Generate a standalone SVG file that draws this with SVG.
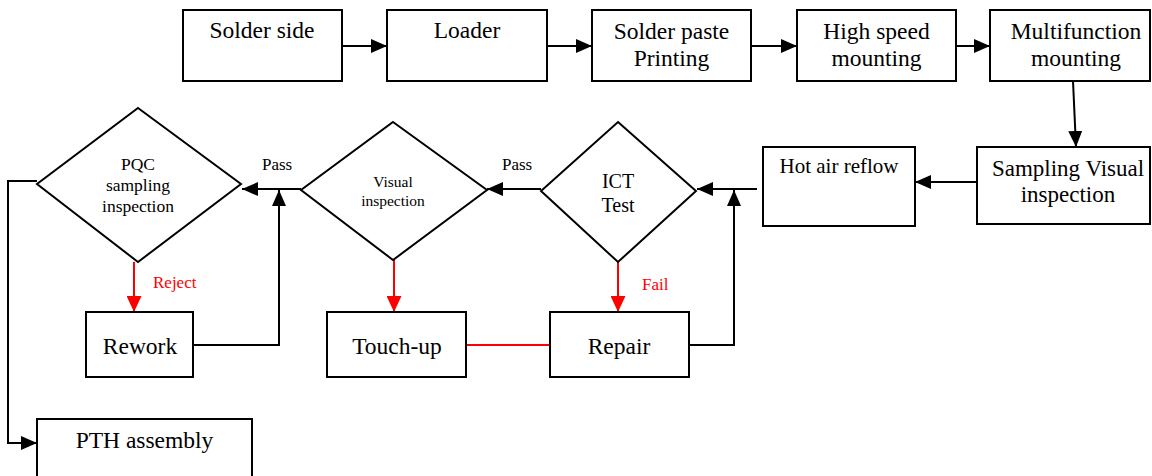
<svg xmlns="http://www.w3.org/2000/svg" width="1152" height="476" viewBox="0 0 1152 476" font-family="'Liberation Serif', 'Times New Roman', serif">
<defs>
<style>
text{font-family:'Liberation Serif','Times New Roman',serif}
.box{fill:#fff;stroke:#000;stroke-width:2}
.t{fill:#000;text-anchor:middle}
.big{font-size:23.5px}
.c{fill:none;stroke:#000;stroke-width:2}
.r{fill:none;stroke:#ff0000;stroke-width:2}
.lbl{font-size:17px}
</style>
<marker id="ah" markerUnits="userSpaceOnUse" markerWidth="16" markerHeight="14" refX="16" refY="7" orient="auto"><path d="M0,0 L16,7 L0,14 z" fill="#000"/></marker>
<marker id="ahr" markerUnits="userSpaceOnUse" markerWidth="16" markerHeight="15" refX="16" refY="7.5" orient="auto"><path d="M0,0 L16,7.5 L0,15 z" fill="#ff0000"/></marker>
</defs>
<rect width="1152" height="476" fill="#fff"/>
<g id="connectors">
<path class="c" d="M342,46 H387" marker-end="url(#ah)"/>
<path class="c" d="M547,46 H592" marker-end="url(#ah)"/>
<path class="c" d="M751,46 H797" marker-end="url(#ah)"/>
<path class="c" d="M956,46 H990" marker-end="url(#ah)"/>
<path class="c" d="M1073,81 L1076,147" marker-end="url(#ah)"/>
<path class="c" d="M977,182 H915" marker-end="url(#ah)"/>
<path class="c" d="M757,189 H697" marker-end="url(#ah)"/>
<path class="c" d="M689,345 H734 V190" marker-end="url(#ah)"/>
<path class="c" d="M541,189 H487" marker-end="url(#ah)"/>
<path class="c" d="M301,189 H242" marker-end="url(#ah)"/>
<path class="c" d="M193,345 H279 V190" marker-end="url(#ah)"/>
<path class="c" d="M37,181 H8 V443 H37" marker-end="url(#ah)"/>
<path class="r" d="M134,262 V312" marker-end="url(#ahr)"/>
<path class="r" d="M394,260 V312" marker-end="url(#ahr)"/>
<path class="r" d="M618,262 V312" marker-end="url(#ahr)"/>
<path class="r" d="M466,345 H550"/>
<text class="lbl" x="262" y="170">Pass</text>
<text class="lbl" x="502" y="170">Pass</text>
<text class="lbl" x="153" y="288" fill="#ff0000">Reject</text>
<text class="lbl" x="642" y="290" fill="#ff0000">Fail</text>
</g>
<g id="solder-side"><rect class="box" x="183" y="10" width="159" height="71"/><text class="t big" x="262" y="38">Solder side</text></g>
<g id="loader"><rect class="box" x="387" y="10" width="160" height="71"/><text class="t big" x="467" y="38">Loader</text></g>
<g id="solder-paste"><rect class="box" x="592" y="10" width="159" height="71"/><text class="t big" x="671.5" y="39">Solder paste</text><text class="t big" x="671.5" y="66">Printing</text></g>
<g id="high-speed"><rect class="box" x="797" y="10" width="159" height="71"/><text class="t big" x="876.5" y="39">High speed</text><text class="t big" x="876.5" y="66">mounting</text></g>
<g id="multifunction"><rect class="box" x="990" y="10" width="160" height="71"/><text class="t big" x="1076" y="39">Multifunction</text><text class="t big" x="1076" y="66">mounting</text></g>
<g id="sampling-visual"><rect class="box" x="977" y="147" width="173" height="77"/><text class="t" style="font-size:23px" x="1068" y="176">Sampling Visual</text><text class="t" style="font-size:23px" x="1068" y="202">inspection</text></g>
<g id="hot-air"><rect class="box" x="763" y="147" width="152" height="79"/><text class="t" style="font-size:21px" x="839" y="173">Hot air reflow</text></g>
<g id="ict"><polygon class="box" points="618,122 696,191 618,262 541,191"/><text class="t" style="font-size:20px" x="618" y="188">ICT</text><text class="t" style="font-size:20px" x="618" y="212">Test</text></g>
<g id="visual"><polygon class="box" points="393,122 487,190 393,260 301,190"/><text class="t" style="font-size:15.5px" x="393" y="187">Visual</text><text class="t" style="font-size:15.5px" x="393" y="206">inspection</text></g>
<g id="pqc"><polygon class="box" points="138,108 241,184 138,262 37,184"/><text class="t" style="font-size:17.5px" x="138" y="170">PQC</text><text class="t" style="font-size:17.5px" x="138" y="191">sampling</text><text class="t" style="font-size:17.5px" x="138" y="212">inspection</text></g>
<g id="rework"><rect class="box" x="86" y="312" width="107" height="65"/><text class="t big" x="140" y="354">Rework</text></g>
<g id="touch-up"><rect class="box" x="327" y="312" width="139" height="65"/><text class="t big" x="397" y="354">Touch-up</text></g>
<g id="repair"><rect class="box" x="550" y="312" width="139" height="65"/><text class="t big" x="619" y="354">Repair</text></g>
<g id="pth"><rect class="box" x="37" y="419" width="215" height="70"/><text class="t big" x="144.5" y="448">PTH assembly</text></g>
</svg>
